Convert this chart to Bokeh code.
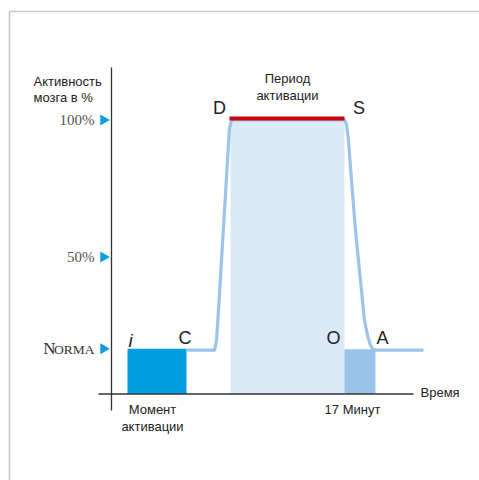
from bokeh.plotting import figure
from bokeh.models import Range1d
from bokeh.core.properties import value
from bokeh.embed import file_html
from bokeh.resources import INLINE
import math

# ---- data (x: time units, y: brain activity %) ----
tick_values = [100, 50, 16.5]
tick_labels = ["100%", "50%", "NORMA"]

curve_x = [75, 103, 105, 107, 110, 113, 116, 118, 120, 233, 235, 237, 240, 244, 249, 253, 256, 259, 262, 265, 312]
curve_y = [16, 16, 19.5, 30.5, 48.7, 67, 85.2, 96.9, 100, 100, 98.5, 92.5, 77.9, 59.7, 41.4, 26.8, 21.4, 17.7, 16.2, 16, 16]

moment_bar = dict(left=16, right=75, top=16.5)
period_area = dict(left=119, right=233, top=100)
end_bar = dict(left=233, right=264, top=16.3)
period_line = dict(x0=118, x1=233, y=100.5)

point_labels = ["i", "C", "D", "S", "O", "A"]
point_x = [19, 73.5, 108, 247.5, 222, 271]
point_y = [19.5, 20.3, 104.2, 104.2, 20.3, 20.3]

SANS = "Liberation Sans"
SERIF = "Liberation Serif"

p = figure(width=479, height=480, output_backend="svg", toolbar_location=None,
           x_range=Range1d(-111, 368), y_range=Range1d(-31.57, 143.61),
           min_border=0, outline_line_color=None)
p.axis.visible = False
p.grid.visible = False
p.background_fill_color = "white"
p.border_fill_color = "white"

# frame border (decoration)
p.line([-102, -102], [-40, 139.6], line_color="#c8c8c8", line_width=1.5)
p.line([-102, 400], [139.6, 139.6], line_color="#c8c8c8", line_width=1.5)

# areas
p.quad(left=period_area["left"], right=period_area["right"], bottom=0, top=period_area["top"],
       fill_color="#dbeaf9", line_color=None)
p.quad(left=moment_bar["left"], right=moment_bar["right"], bottom=0, top=moment_bar["top"],
       fill_color="#009ee0", line_color=None)
p.quad(left=end_bar["left"], right=end_bar["right"], bottom=0, top=end_bar["top"],
       fill_color="#99c2e8", line_color=None)

# activity curve
p.line(curve_x, curve_y, line_color="#9cc3ea", line_width=3.2, line_join="round")
# activation period line
p.line([period_line["x0"], period_line["x1"]], [period_line["y"], period_line["y"]],
       line_color="#c8000f", line_width=4)

# axes
p.line([0, 0], [-6.0, 119.2], line_color="#333333", line_width=1.3)
p.line([-13, 302], [0, 0], line_color="#333333", line_width=1.3)

# y tick arrows
p.scatter([-8] * len(tick_values), tick_values, marker="triangle", size=11,
          angle=-math.pi / 2, fill_color="#0a9ee0", line_color=None)
# y tick labels
p.text([-17, -17], tick_values[:2], text=tick_labels[:2], text_font=value(SERIF),
       text_font_size="15px", text_color="#555555", text_align="right", text_baseline="middle")
# small-caps NORMA
p.text([-17], [tick_values[2]], text=[tick_labels[2][1:]], text_font=value(SERIF),
       text_font_size="13.5px", text_color="#333333", text_align="right", text_baseline="middle",
       y_offset=1)
p.text([-56], [tick_values[2]], text=[tick_labels[2][0]], text_font=value(SERIF),
       text_font_size="17px", text_color="#333333", text_align="right", text_baseline="middle")

# y axis title
p.text([-78, -78], [114.1, 108.2], text=["Активность", "мозга в %"], text_font=value(SANS),
       text_font_size="13px", text_color="#222222", text_align="left", text_baseline="middle")

# period title
p.text([176, 176], [115.1, 108.9], text=["Период", "активации"], text_font=value(SANS),
       text_font_size="13px", text_color="#222222", text_align="center", text_baseline="middle")

# point labels
p.text(point_x[1:], point_y[1:], text=point_labels[1:], text_font=value(SANS),
       text_font_size="18px", text_color="#222222", text_align="center", text_baseline="middle")
p.text(point_x[:1], point_y[:1], text=point_labels[:1], text_font=value(SANS),
       text_font_size="19px", text_font_style="italic", text_color="#222222",
       text_align="center", text_baseline="middle")

# x labels
p.text([41, 41], [-5.6, -11.9], text=["Момент", "активации"], text_font=value(SANS),
       text_font_size="13px", text_color="#222222", text_align="center", text_baseline="middle")
p.text([241], [-5.6], text=["17 Минут"], text_font=value(SANS),
       text_font_size="13px", text_color="#222222", text_align="center", text_baseline="middle")
p.text([309], [0.5], text=["Время"], text_font=value(SANS),
       text_font_size="13px", text_color="#222222", text_align="left", text_baseline="middle")

open("out.html", "w").write(file_html(p, INLINE))
